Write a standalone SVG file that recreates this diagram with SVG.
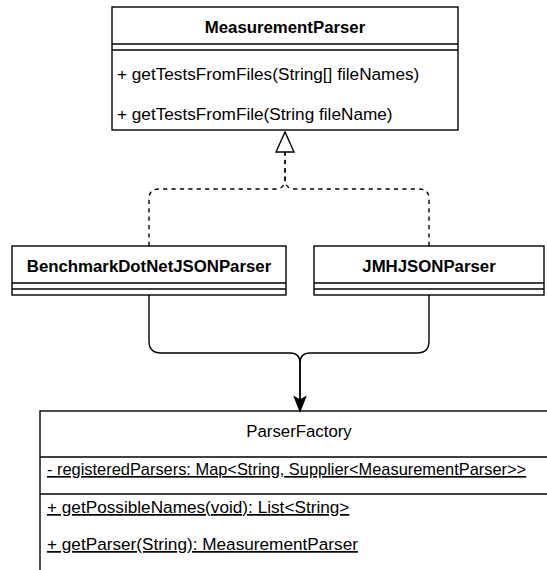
<svg xmlns="http://www.w3.org/2000/svg" width="547" height="570" viewBox="0 0 547 570">
<style>
  .box { fill: #ffffff; stroke: #000000; stroke-width: 1.4; }
  .line { fill: none; stroke: #000000; stroke-width: 1.4; }
  .edge { fill: none; stroke: #000000; stroke-width: 1.4; }
  .dash { stroke-dasharray: 4.2 4.2; }
  text { font-family: "Liberation Sans", Arial, sans-serif; font-size: 17.2px; fill: #000000; }
  .title { font-weight: bold; text-anchor: middle; font-size: 16.8px; }
  .ptitle { text-anchor: middle; font-size: 16.8px; }
  .u { text-decoration: underline; }
  .long { font-size: 16.4px; }
</style>

<g id="MeasurementParser">
  <rect class="box" x="112" y="7" width="346" height="123"/>
  <line class="line" x1="112" y1="44" x2="458" y2="44"/>
  <line class="line" x1="112" y1="50" x2="458" y2="50"/>
  <text class="title" x="285" y="33">MeasurementParser</text>
  <text x="117" y="80">+ getTestsFromFiles(String[] fileNames)</text>
  <text x="117" y="120">+ getTestsFromFile(String fileName)</text>
</g>

<g id="BenchmarkDotNetJSONParser">
  <rect class="box" x="12" y="246" width="274" height="49"/>
  <line class="line" x1="12" y1="283" x2="286" y2="283"/>
  <line class="line" x1="12" y1="289" x2="286" y2="289"/>
  <text class="title" x="149" y="272">BenchmarkDotNetJSONParser</text>
</g>

<g id="JMHJSONParser">
  <rect class="box" x="314" y="246" width="230" height="49"/>
  <line class="line" x1="314" y1="283" x2="544" y2="283"/>
  <line class="line" x1="314" y1="289" x2="544" y2="289"/>
  <text class="title" x="429" y="272">JMHJSONParser</text>
</g>

<g id="ParserFactory">
  <rect class="box" x="40" y="411" width="518" height="175"/>
  <line class="line" x1="40" y1="457" x2="558" y2="457"/>
  <line class="line" x1="40" y1="494" x2="558" y2="494"/>
  <text class="ptitle" x="299" y="437">ParserFactory</text>
  <text class="u long" x="47" y="475">- registeredParsers: Map&lt;String, Supplier&lt;MeasurementParser&gt;&gt;</text>
  <text class="u" x="47" y="513">+ getPossibleNames(void): List&lt;String&gt;</text>
  <text class="u" x="47" y="550">+ getParser(String): MeasurementParser</text>
</g>

<g id="connectors">
  <path class="edge dash" d="M149,246 V199 Q149,189 159,189 H275 Q285,189 285,179 V152"/>
  <path class="edge dash" d="M429,246 V199 Q429,189 419,189 H295 Q285,189 285,179 V152"/>
  <polygon points="285,132 276,152 294,152" fill="#ffffff" stroke="#000000" stroke-width="1.4"/>
  <path class="edge" d="M149,295 V341 Q149,353 161,353 H290 Q300,353 300,363 V400"/>
  <path class="edge" d="M429,295 V341 Q429,353 417,353 H310 Q300,353 300,363 V400"/>
  <polygon points="300,411 294.5,397 300,400 305.5,397" fill="#000000" stroke="#000000" stroke-width="1.4"/>
</g>
</svg>
